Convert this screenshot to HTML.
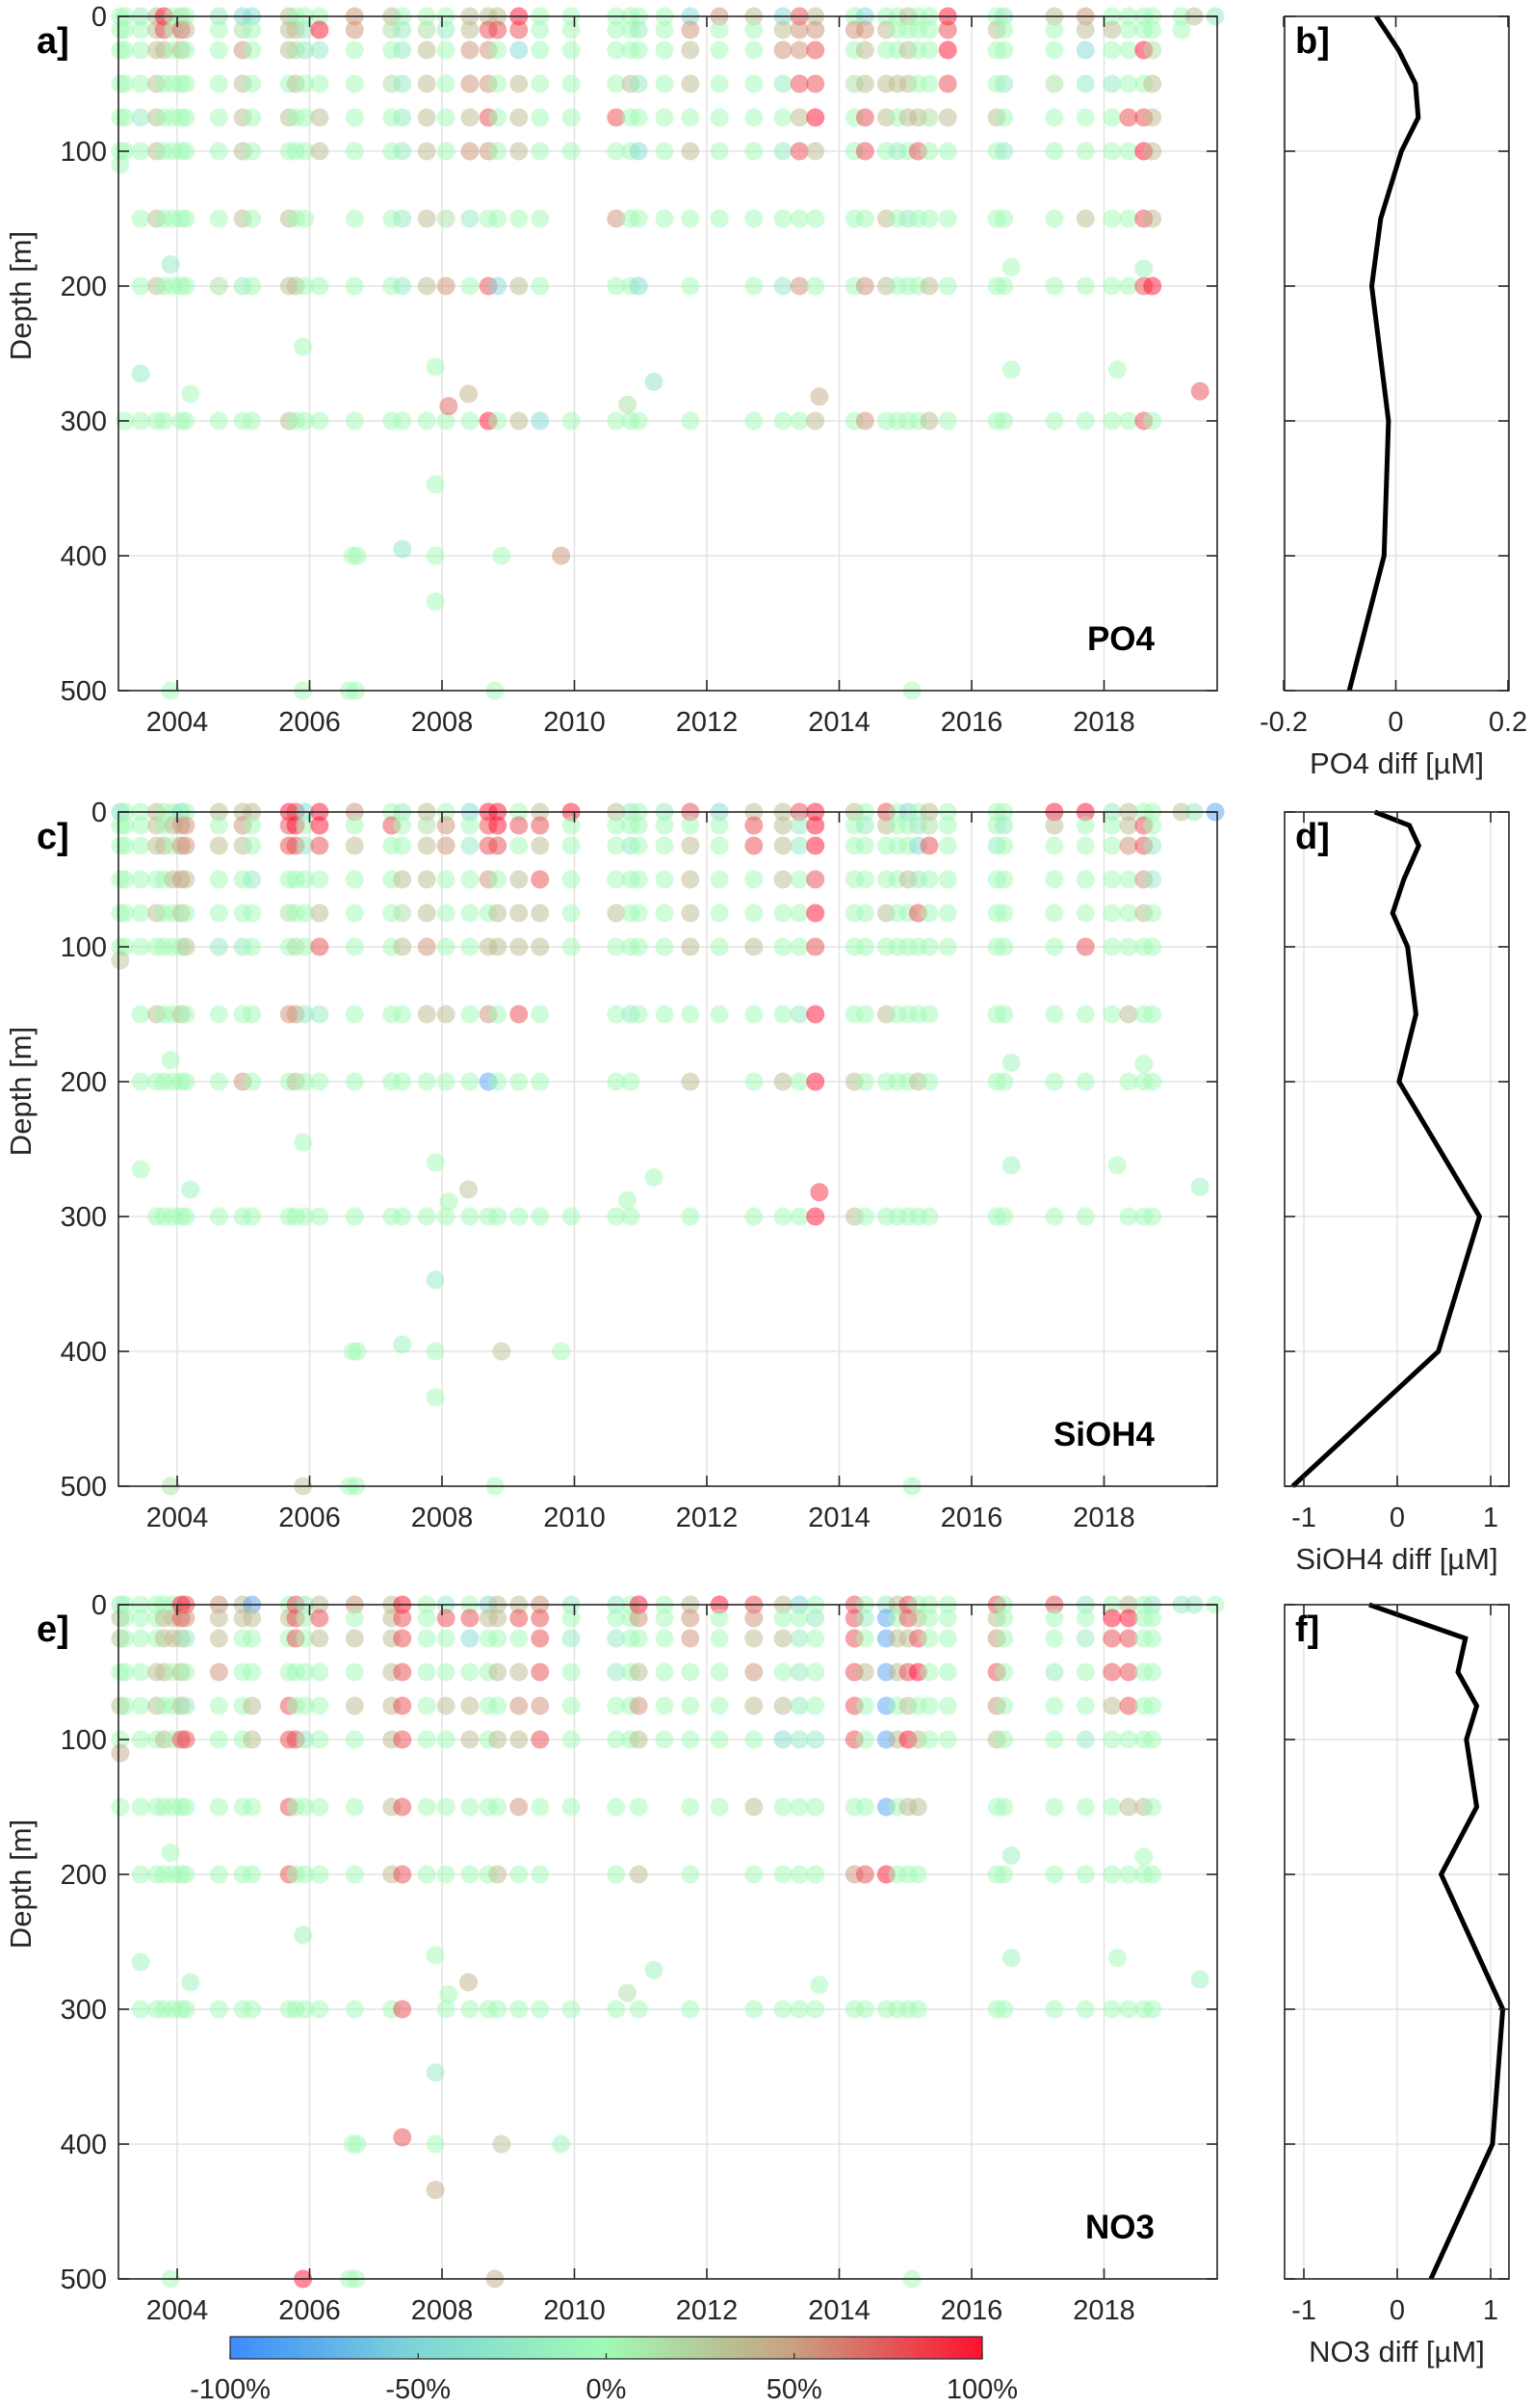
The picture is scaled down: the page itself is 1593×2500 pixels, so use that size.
<!DOCTYPE html>
<html><head><meta charset="utf-8"><title>Nutrient differences</title>
<style>
html,body{margin:0;padding:0;background:#fff;}
svg{display:block;font-family:"Liberation Sans",Arial,sans-serif;}
</style></head>
<body>
<svg id="fig" width="1593" height="2500" viewBox="0 0 1593 2500" xmlns="http://www.w3.org/2000/svg">
<defs>
<linearGradient id="cbgrad" x1="0" x2="1" y1="0" y2="0">
<stop offset="0" stop-color="#3d8bff"/><stop offset="0.25" stop-color="#7fd6d6"/><stop offset="0.5" stop-color="#a0fab4"/><stop offset="0.75" stop-color="#c8a080"/><stop offset="1" stop-color="#ff1030"/>
</linearGradient>
</defs>
</svg>
<script>
// ---- data ----
const cruiseTimes = [2003.14,2003.21,2003.45,2003.69,2003.80,2003.94,2004.06,2004.13,2004.63,2004.99,2005.13,2005.69,2005.79,2005.93,2006.15,2006.68,2007.24,2007.40,2007.77,2008.06,2008.42,2008.70,2008.84,2009.16,2009.48,2009.95,2010.63,2010.85,2010.97,2011.36,2011.75,2012.19,2012.71,2013.15,2013.40,2013.64,2014.23,2014.39,2014.71,2014.88,2015.04,2015.19,2015.36,2015.64,2016.38,2016.49,2017.25,2017.72,2018.12,2018.37,2018.60,2018.73,2019.17,2019.36,2019.68];
const depthLevels = [0,10,25,50,75,100,150,200,300,400,500];
// codes: g=0 l=+15 t=+35 b=+55 r=+80 R=+100 c=-20 C=-45 B=-85 .=none
const codeValues = {g:0,l:15,t:35,b:55,r:80,R:100,c:-20,C:-45,B:-85};
const po4Codes = ["gggggg","gggggg..g","cgggcgggg","ttttttttg","Rrtgggggg","gggggggg.","lrtgggggg","gtggggggg","cgggggglg","Clbttttcg","Cgggggggg","tttgtgttt","gtltgggtg","gccgggggg","gRcgtthgg","bbggggggg","tlglggggg","gcccccccg","glttttttg","gcgggglbg","ttbbtbcgg","trbbrbgrR","trgggggCg","RrCtttgtt","ggggggggC","gggggg..g","ggggrgbgg","gggtggggg","gcgcgCgCg","ggggggg","Cbttgtggg","bgggggg","tgggggggg","Ctbcgcgcg","rbbrtrgbg","tbrrRtggt","gbglggggg","Cbttrrgbb","gtgttgttg","gggtgcggg","tgtttgcgg","ggggtrggg","gggglggtt","RrRrtgggg","gtggtgggg","cggcgcggg","tgglggggg","btCcggtgg","gtgcggggg","ggggrgggg","ggRgrRrrr","gglttttRg","gg","t","c"];
const sioCodes = ["Cggggg","gggggg","gggggggg","tttgtgtgg","ggtgggggg","gtgtggggg","Cbbbtgtgg","gbbtgtggg","tgtggcggg","tbtggcgbg","tggcggggg","Rrrglgbgg","rRrgglbtg","Cgcgggcgg","RRrgtrcgg","bgtgggggg","grggggggg","cggtltggg","tltttbtgg","gbbgggtgg","Cgcgggggg","RrrbgtbBg","RRrgttggg","grgtttrgg","trtrttggg","Rggggg..g","tgggtgggg","cgcgggcgg","ggggggg","cgggggg","rgttttgtg","Cgggggg","trrggtggg","ttttgggtg","rccgggcgg","RRRrRrRRR","tggggggtt","gcggggggg","rtggtgtgg","ggggggggg","Cggtggggg","gcCcrggtg","tlrgggggg","gggggg","ggcgggggg","gcggggggg","Rtggggggg","Rggggrggg","cgggggg","ttbgggtgg","grrbtgggg","ggccggggg","t","c","B"];
const no3Codes = ["cttgtgg","ggggg","ggggggggg","gggttgggg","gtttgtggg","gttgggggg","Rrtttrggg","rbcgcrggg","bttbggggg","ttggggggg","Btggttggg","gtggrrrrg","rrrggrggg","cggggcggg","trtgggggg","bgtgtgggg","ttttttttg","Rrrrrrrrr","gggggggg","crggtgggg","grCgttggg","Ctggggggg","ttgtgtgtg","trgtbtbgg","brrrbrggg","cgcgggg.g","cgccggggg","gggggg","Rbgtbtgtg","gggggg","tbbgggggg","Rgggggg","rbtbtgtgg","tgtgtCggg","Cgccccggg","gcgggcggg","rrrrrrgbg","gcgtgggrg","cBBBBBBRg","tgttgtggg","rrtrtRtgg","gtrRgttgg","gggggg","gggggg","rtbrbtggg","ggggggggg","rggcggggg","cgcggcggg","gRrrtgggg","tRrrrgtgg","ggggggtgg","cgggggggg","c","c","g"];
// extra (off-level) samples
const extraTimes = [2003.14,2003.45,2003.90,2004.20,2005.90,2006.65,2006.72,2007.40,2007.90,2007.90,2007.90,2007.90,2008.10,2008.40,2008.90,2009.80,2010.80,2011.20,2013.70,2016.60,2016.60,2018.20,2018.60,2019.45,2003.90,2005.90,2006.60,2006.70,2008.80,2015.10];
const extraDepths = [110,265,184,280,245,400,400,395,260,347,400,434,289,280,400,400,288,271,282,262,186,262,187,278,500,500,500,500,500,500];
const po4Extra = [0,-20,-20,0,0,0,0,-30,0,0,0,0,70,40,0,55,15,-35,45,0,0,0,-10,80,0,0,0,0,0,0];
const sioExtra = [30,0,0,-10,0,0,0,-10,0,-20,0,0,0,30,30,0,0,0,90,-10,-10,0,0,-10,15,30,0,0,0,-10];
const no3Extra = [45,-10,0,-10,-10,0,0,80,0,-20,0,45,0,40,30,-10,15,-10,0,-10,-10,0,0,-10,0,100,0,0,45,0];
// mean-difference profiles
const profDepthsB = [0,25,50,75,100,150,200,300,400,500];
const po4Diff = [-0.035,0.005,0.035,0.04,0.01,-0.027,-0.043,-0.013,-0.021,-0.083];
const profDepthsD = [0,10,25,50,75,100,150,200,300,400,500];
const sioDiff = [-0.24,0.13,0.23,0.07,-0.05,0.11,0.2,0.02,0.88,0.44,-1.12];
const profDepthsF = [0,25,50,75,100,150,200,300,400,500];
const no3Diff = [-0.3,0.73,0.65,0.85,0.74,0.85,0.47,1.13,1.02,0.36];
const yearTicks = [2004,2006,2008,2010,2012,2014,2016,2018];
const depthTicks = [0,100,200,300,400,500];
const cbTicks = ["-100%","-50%","0%","50%","100%"];

// ---- drawing ----
const NS = "http://www.w3.org/2000/svg";
const svg = document.getElementById('fig');
function mk(tag, attrs, parent){const e=document.createElementNS(NS,tag);for(const k in attrs)e.setAttribute(k,attrs[k]);(parent||svg).appendChild(e);return e;}
const stops=[[-100,[61,139,255]],[-50,[127,214,214]],[0,[160,250,180]],[50,[200,160,128]],[100,[255,16,48]]];
function cmap(v){v=Math.max(-100,Math.min(100,v));for(let i=0;i<stops.length-1;i++){const a=stops[i],b=stops[i+1];if(v<=b[0]){const f=(v-a[0])/(b[0]-a[0]);const c=a[1].map((x,j)=>Math.round(x+(b[1][j]-x)*f));return `rgb(${c[0]},${c[1]},${c[2]})`;}}return 'rgb(255,16,48)';}
const L=123,R=1264,H=700;
const xs=t=>184+(t-2004)*68.75;

function leftPanel(top, codes, extra, label, name, letter){
  const g=mk('g',{});
  
  
  const ys=d=>top+d*1.4;
  yearTicks.forEach(y=>{const l=mk('line',{x1:xs(y),x2:xs(y),y1:top,y2:top+H,stroke:'#e3e3e3','stroke-width':1.5},g);
    
    });
  depthTicks.slice(1,5).forEach(d=>{const l=mk('line',{x1:L,x2:R,y1:ys(d),y2:ys(d),stroke:'#e3e3e3','stroke-width':1.5},g);
    
    });
  const pts=mk('g',{},g);
  
  
  cruiseTimes.forEach((t,i)=>{const s=codes[i]||'';for(let k=0;k<depthLevels.length;k++){const ch=s[k];if(!ch||!(ch in codeValues))continue;
    const c=mk('circle',{cx:xs(t),cy:ys(depthLevels[k]),r:9.5,fill:cmap(codeValues[ch]),'fill-opacity':0.5},pts);
    
    }});
  extraTimes.forEach((t,i)=>{const c=mk('circle',{cx:xs(t),cy:ys(extraDepths[i]),r:9.5,fill:cmap(extra[i]),'fill-opacity':0.5},pts);
    
    });
  const box=mk('rect',{x:L,y:top,width:R-L,height:H,fill:'none',stroke:'#262626','stroke-width':1.6},g);
  
  
  yearTicks.forEach(y=>{mk('line',{x1:xs(y),x2:xs(y),y1:top,y2:top+11,stroke:'#262626','stroke-width':1.6},g);mk('line',{x1:xs(y),x2:xs(y),y1:top+H,y2:top+H-11,stroke:'#262626','stroke-width':1.6},g);
    const tx=mk('text',{x:xs(y),y:top+H+42,'font-size':29,'text-anchor':'middle',fill:'#262626'},g);tx.textContent=y;
    
    });
  depthTicks.forEach(d=>{mk('line',{x1:L,x2:L+11,y1:ys(d),y2:ys(d),stroke:'#262626','stroke-width':1.6},g);mk('line',{x1:R,x2:R-11,y1:ys(d),y2:ys(d),stroke:'#262626','stroke-width':1.6},g);
    const tx=mk('text',{x:L-12,y:ys(d)+10,'font-size':29,'text-anchor':'end',fill:'#262626'},g);tx.textContent=d;
    
    });
  const yl=mk('text',{x:0,y:0,'font-size':31,'text-anchor':'middle',fill:'#262626',transform:`translate(32,${top+H/2-60}) rotate(-90)`},g);yl.textContent='Depth [m]';
  
  
  const pl=mk('text',{x:38,y:top+38,'font-size':38,'font-weight':'bold',fill:'#000'},g);pl.textContent=letter+']';
  
  
  const lb=mk('text',{x:1199,y:top+658,'font-size':35,'font-weight':'bold','text-anchor':'end',fill:'#000'},g);lb.textContent=label;
  
  
}

function rightPanel(top, depths, vals, zero, scale, ticks, xlabel, name, letter){
  const g=mk('g',{});
  
  
  const x0=1334,x1=1567;
  const ys=d=>top+d*1.4, xv=v=>zero+v*scale;
  ticks.forEach(t=>{const l=mk('line',{x1:xv(t),x2:xv(t),y1:top,y2:top+H,stroke:'#e3e3e3','stroke-width':1.5},g);
    
    });
  depthTicks.slice(1,5).forEach(d=>{const l=mk('line',{x1:x0,x2:x1,y1:ys(d),y2:ys(d),stroke:'#e3e3e3','stroke-width':1.5},g);
    
    });
  const pts=depths.map((d,i)=>xv(vals[i]).toFixed(1)+','+ys(d).toFixed(1)).join(' ');
  const pl=mk('polyline',{points:pts,fill:'none',stroke:'#000','stroke-width':5,'stroke-linejoin':'miter'},g);
  
  
  const box=mk('rect',{x:x0,y:top,width:x1-x0,height:H,fill:'none',stroke:'#262626','stroke-width':1.6},g);
  
  
  ticks.forEach(t=>{mk('line',{x1:xv(t),x2:xv(t),y1:top,y2:top+11,stroke:'#262626','stroke-width':1.6},g);mk('line',{x1:xv(t),x2:xv(t),y1:top+H,y2:top+H-11,stroke:'#262626','stroke-width':1.6},g);
    const tx=mk('text',{x:xv(t),y:top+H+42,'font-size':29,'text-anchor':'middle',fill:'#262626'},g);tx.textContent=String(t);
    
    });
  depthTicks.forEach(d=>{mk('line',{x1:x0,x2:x0+11,y1:ys(d),y2:ys(d),stroke:'#262626','stroke-width':1.6},g);mk('line',{x1:x1,x2:x1-11,y1:ys(d),y2:ys(d),stroke:'#262626','stroke-width':1.6},g);});
  const xl=mk('text',{x:(x0+x1)/2,y:top+H+86,'font-size':31,'text-anchor':'middle',fill:'#262626'},g);xl.textContent=xlabel;
  
  
  const lt=mk('text',{x:1345,y:top+38,'font-size':38,'font-weight':'bold',fill:'#000'},g);lt.textContent=letter+']';
  
  
}

leftPanel(17, po4Codes, po4Extra, 'PO4', 'po4', 'a');
leftPanel(843, sioCodes, sioExtra, 'SiOH4', 'sioh4', 'c');
leftPanel(1666, no3Codes, no3Extra, 'NO3', 'no3', 'e');
rightPanel(17, profDepthsB, po4Diff, 1449.5, 582.5, [-0.2,0,0.2], 'PO4 diff [µM]', 'po4', 'b');
rightPanel(843, profDepthsD, sioDiff, 1451, 97, [-1,0,1], 'SiOH4 diff [µM]', 'sioh4', 'd');
rightPanel(1666, profDepthsF, no3Diff, 1451, 97, [-1,0,1], 'NO3 diff [µM]', 'no3', 'f');

// colorbar
const cb=mk('g',{});


mk('rect',{x:239,y:2426,width:781,height:23,fill:'url(#cbgrad)',stroke:'#262626','stroke-width':1.2},cb);
cbTicks.forEach((s,i)=>{const x=239+i*781/4;
  mk('line',{x1:x,x2:x,y1:2443,y2:2449,stroke:'#262626','stroke-width':1.2},cb);
  const t=mk('text',{x:x,y:2490,'font-size':29,'text-anchor':'middle',fill:'#262626'},cb);t.textContent=s;
  
  });
</script>
</body></html>
